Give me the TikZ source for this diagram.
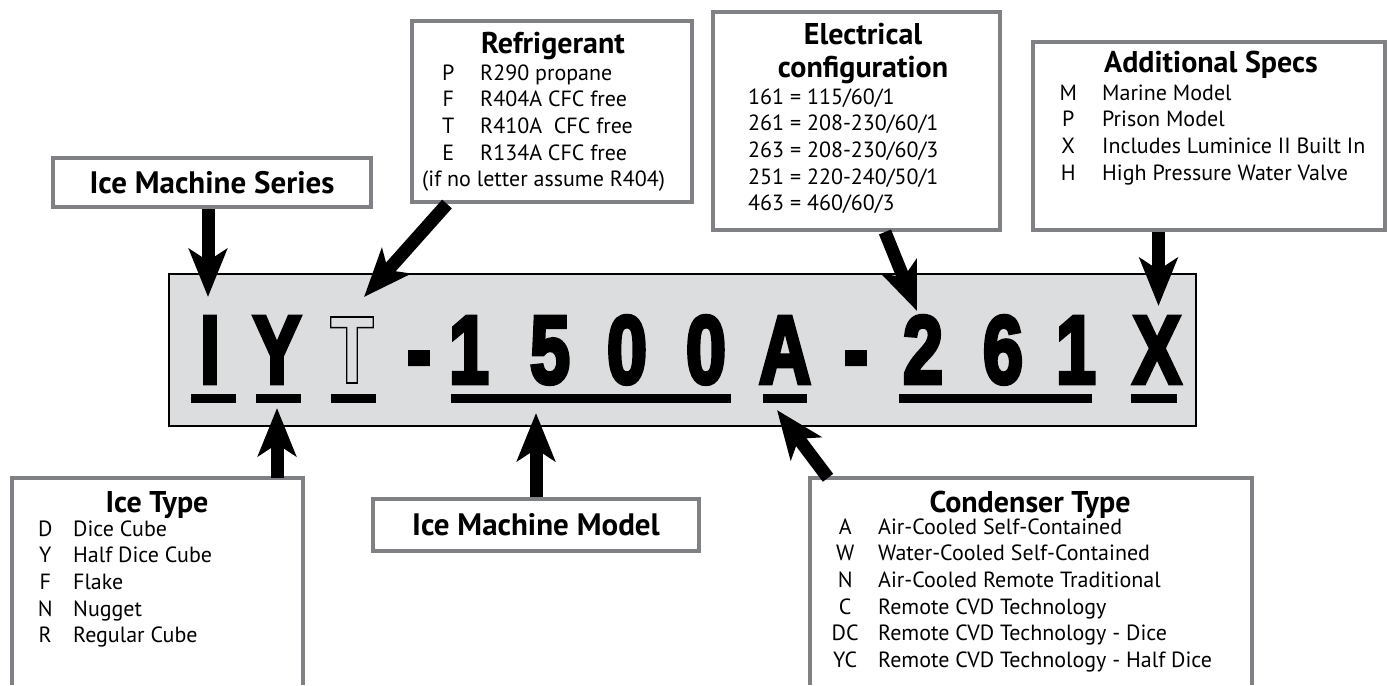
\documentclass[tikz,border=0pt]{standalone}
\usepackage{fontspec}
\setmainfont{PT Sans}
\newfontfamily\platefont{Liberation Sans}
\usepackage{array}
\usepackage{xcolor}
\usetikzlibrary{arrows.meta,positioning,calc}
\definecolor{platefill}{RGB}{220,221,223}
\definecolor{framegray}{RGB}{128,129,132}
\newcolumntype{K}[1]{>{\centering\arraybackslash}p{#1}}
% filled and stroked letter (text render mode 2), outlined letter (mode 1)
\newcommand{\heavy}[1]{\special{pdf:literal direct 2 Tr 4.5 w}#1\special{pdf:literal direct 0 Tr}}
\newcommand{\hollow}[1]{\special{pdf:literal direct 1 Tr 1.6 w}#1\special{pdf:literal direct 0 Tr}}

\begin{document}
\begin{tikzpicture}[x=1pt,y=-1pt,
    frame/.style={draw=framegray,line width=4pt,fill=white,inner sep=0pt},
    openframe/.style={inner sep=0pt},
    pen/.style={draw=framegray,line width=4pt},
    boxtitle/.style={font=\fontsize{30}{32.5}\selectfont\bfseries,inner sep=0pt,anchor=base},
    boxlabel/.style={font=\fontsize{31}{32}\selectfont\bfseries},
    codes/.style={font=\fontsize{22}{26.7}\selectfont,inner sep=0pt,anchor=base west},
    glyph/.style={font=\platefont\bfseries\fontsize{96}{96}\selectfont,inner sep=0pt,anchor=base,xscale=0.75},
    uline/.style={line width=9pt},
    pointer/.style={line width=13pt,-{Stealth[length=48pt,width=38pt,inset=12pt]}}]

  \useasboundingbox (0,0) rectangle (1388,685);

  % model number plate
  \node[draw=black,line width=2pt,fill=platefill,minimum width=1027pt,minimum height=152pt,inner sep=0pt] (plate) at (682.5,350) {};

  % characters of the model number
  \foreach \nm/\px/\ch in {cI/210/I, cY/277/Y, cT/352/\hollow{T}, d1/419/-, n1/469/1, n5/550/5, n0a/627/0, n0b/706/0,
                           cA/785/A, d2/856/-, n2/923/2, n6/1003/6, n1b/1076/1, cX/1157/X}
    \node[glyph] (\nm) at (\px,383) {\heavy{\ch}};

  % underlines
  \foreach \a/\b in {191/236, 256/301, 331/376, 451/731, 763/807, 899/1092, 1131/1177}
    \draw[uline] (\a,398.5) -- (\b,398.5);

  % top boxes
  \node[frame,boxlabel,minimum width=318pt,minimum height=49pt] (series) at (212,182.5) {Ice Machine Series};

  \node[frame,minimum width=280pt,minimum height=181pt] (refrig) at (552,111.5) {};
  \node[boxtitle] (refrigT) at (553,53) {Refrigerant};
  \node[codes] (refrigL) at (434,80) {\begin{tabular}[t]{@{}K{28pt}@{\hspace{18pt}}l@{}}
      P & R290 propane\\
      F & R404A CFC free\\
      T & R410A\ \ CFC free\\
      E & R134A CFC free\\
      \multicolumn{2}{@{\hspace{-12pt}}l@{}}{(if no letter assume R404)}
    \end{tabular}};

  \node[frame,minimum width=287pt,minimum height=218pt] (elec) at (856.5,121) {};
  \node[boxtitle] (elecT) at (863,45) {\begin{tabular}[t]{@{}c@{}}Electrical\\configuration\end{tabular}};
  \node[codes] (elecL) at (748,104) {\begin{tabular}[t]{@{}l@{}}
      161 = 115/60/1\\
      261 = 208-230/60/1\\
      263 = 208-230/60/3\\
      251 = 220-240/50/1\\
      463 = 460/60/3
    \end{tabular}};

  \node[frame,minimum width=352pt,minimum height=188pt] (addl) at (1209,136) {};
  \node[boxtitle] (addlT) at (1211,73) {Additional Specs};
  \node[codes] (addlL) at (1054,100) {\begin{tabular}[t]{@{}K{28pt}@{\hspace{20pt}}l@{}}
      M & Marine Model\\
      P & Prison Model\\
      X & Includes Luminice II Built In\\
      H & High Pressure Water Valve
    \end{tabular}};

  % bottom boxes (open at the lower edge)
  \node[openframe,minimum width=291pt,minimum height=207pt] (icetype) at (157.5,581.5) {};
  \draw[pen] (icetype.south west) |- (icetype.north east) -- (icetype.south east);
  \node[boxtitle] (icetypeT) at (157,512) {Ice Type};
  \node[codes] (icetypeL) at (31,536) {\begin{tabular}[t]{@{}K{28pt}@{\hspace{14pt}}l@{}}
      D & Dice Cube\\
      Y & Half Dice Cube\\
      F & Flake\\
      N & Nugget\\
      R & Regular Cube
    \end{tabular}};

  \node[frame,boxlabel,minimum width=326pt,minimum height=52pt] (model) at (536,525) {Ice Machine Model};

  \node[openframe,minimum width=442pt,minimum height=207pt] (cond) at (1031,581.5) {};
  \draw[pen] (cond.south west) |- (cond.north east) -- (cond.south east);
  \node[boxtitle] (condT) at (1030,512) {Condenser Type};
  \node[codes] (condL) at (828,534) {\begin{tabular}[t]{@{}K{34pt}@{\hspace{16pt}}l@{}}
      A & Air-Cooled Self-Contained\\
      W & Water-Cooled Self-Contained\\
      N & Air-Cooled Remote Traditional\\
      C & Remote CVD Technology\\
      DC & Remote CVD Technology - Dice\\
      YC & Remote CVD Technology - Half Dice
    \end{tabular}};

  % arrow tips on the plate
  \coordinate (tipI) at (208,297);
  \coordinate (tipT) at (364,297);
  \coordinate (tip2) at (917,311);
  \coordinate (tipX) at (1158.5,306);
  \coordinate (tipY) at (277,408);
  \coordinate (tipM) at (536,413);
  \coordinate (tipA) at (777,410);

  % pointers
  \draw[pointer] (series.south -| tipI) -- (tipI);
  \draw[pointer] ($(refrig.south)+(-105,0)$) -- (tipT);
  \draw[pointer] ($(elec.south)+(28.5,0)$) -- (tip2);
  \draw[pointer] (addl.south -| tipX) -- (tipX);
  \draw[pointer] (icetype.north -| tipY) -- (tipY);
  \draw[pointer] (model.north -| tipM) -- (tipM);
  \draw[pointer] ($(cond.north)+(-203,0)$) -- (tipA);
\end{tikzpicture}
\end{document}
